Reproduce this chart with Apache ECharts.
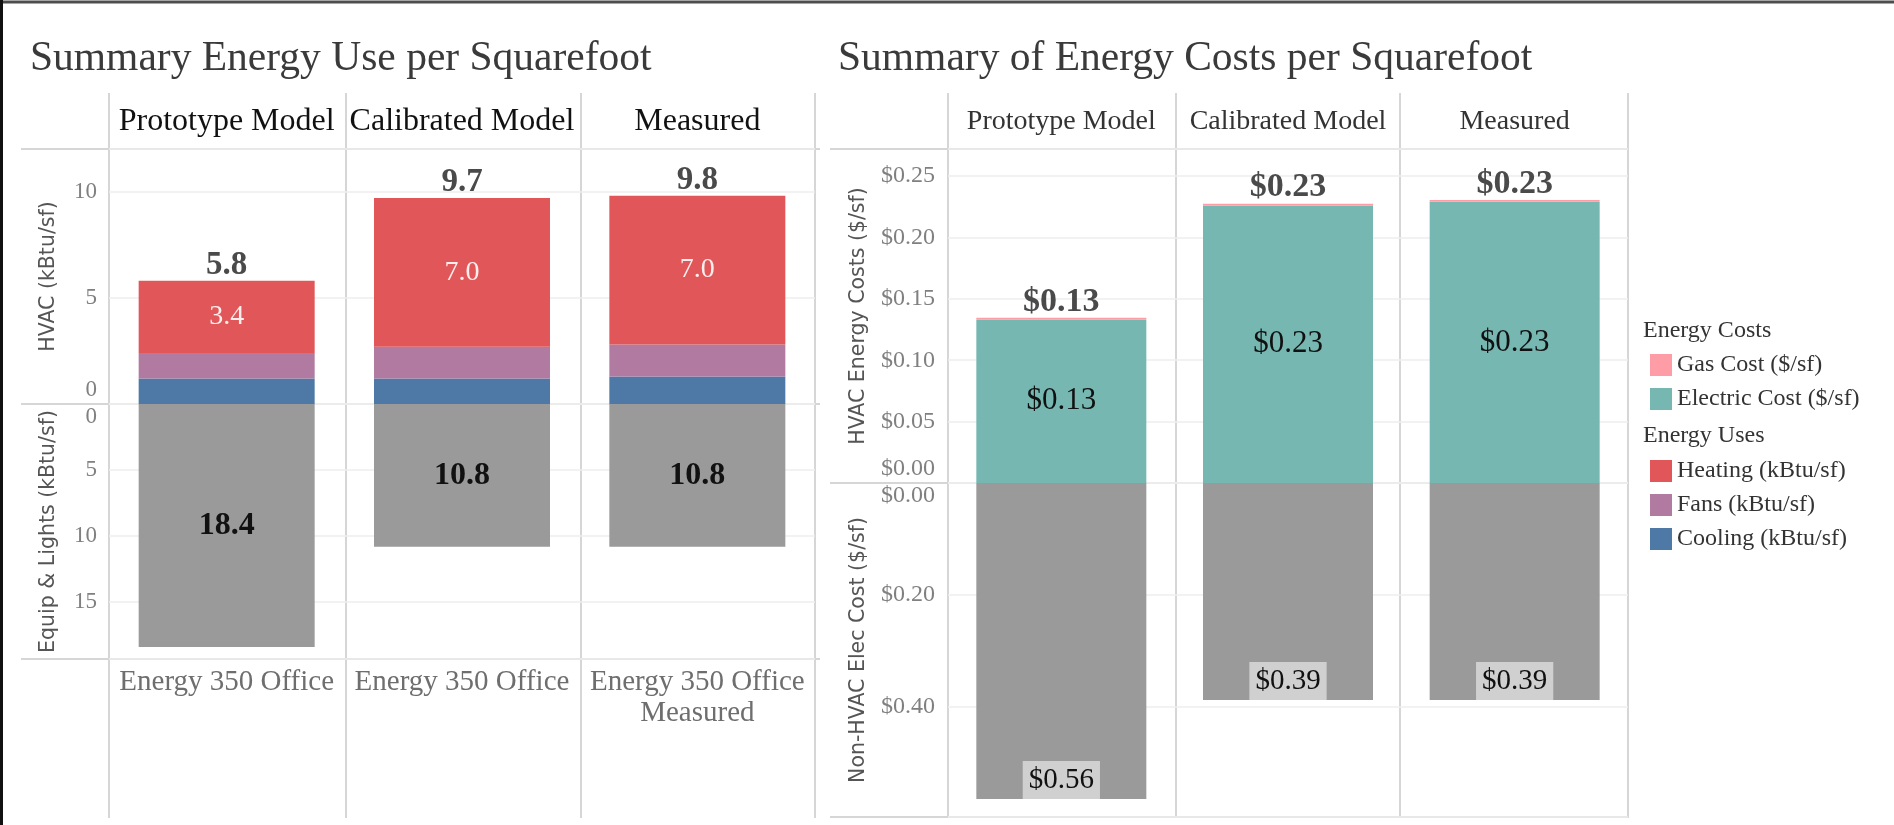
<!DOCTYPE html>
<html>
<head>
<meta charset="utf-8">
<title>Summary Energy Use and Costs per Squarefoot</title>
<script src="https://cdn.jsdelivr.net/npm/echarts@6/dist/echarts.min.js"></script>
<style>
  html, body { margin: 0; padding: 0; background: #fff; }
  #main { width: 1894px; height: 825px; }
</style>
</head>
<body>
<div id="main"></div>
<script>
// categories
const scenarios = ["Prototype Model", "Calibrated Model", "Measured"];
const buildings = ["Energy 350 Office", "Energy 350 Office", "Energy 350 Office\nMeasured"];

// energy use (kBtu/sf)
const cooling = [1.2, 1.2, 1.3];
const fans = [1.2, 1.5, 1.5];
const heating = [3.4, 7.0, 7.0];
const equipLights = [18.4, 10.8, 10.8];

// energy costs ($/sf)
const electricCost = [0.133, 0.226, 0.229];
const gasCost = [0.0015, 0.0015, 0.0015];
const nonHvacCost = [0.564, 0.387, 0.387];

const hvacTotal = cooling.map((v, i) => v + fans[i] + heating[i]);
const costTotal = electricCost.map((v, i) => v + gasCost[i]);

const SERIF = "'Liberation Serif', 'DejaVu Serif', serif";
const SANS = "'DejaVu Sans', sans-serif";
const paneLine = "#d6d6d6";
const gridLine = "#eeeeee";
const tickColor = "#808080";
const barGray = "#9a9a9a";

function money(v) {
  return "$" + (Math.round(v * 100) / 100).toFixed(2);
}

// y axis: zero label nudged away from the pane divider like the original
function valueAxis(grid, opts) {
  const fmt = opts.fmt;
  const shift = opts.inverse ? [26, 0, 0, 0] : [0, 0, 28, 0];
  return {
    type: "value",
    gridIndex: grid,
    min: 0,
    max: opts.max,
    interval: opts.interval,
    inverse: !!opts.inverse,
    name: opts.name,
    nameLocation: "middle",
    nameGap: opts.nameGap,
    nameTextStyle: { fontFamily: SANS, fontSize: 20.5, color: "#555" },
    axisLine: { show: false },
    axisTick: { show: false },
    splitLine: { lineStyle: { color: gridLine, width: 1.5 } },
    axisLabel: {
      showMaxLabel: false,
      margin: opts.margin,
      fontFamily: SERIF,
      fontSize: opts.fontSize,
      color: tickColor,
      formatter: v => (v === 0 ? "{z|" + fmt(v) + "}" : fmt(v)),
      rich: {
        z: { padding: shift, fontFamily: SERIF, fontSize: opts.fontSize, color: tickColor }
      }
    }
  };
}

function vline(x) {
  return { type: "line", z: 0, shape: { x1: x, y1: 93, x2: x, y2: 818 }, style: { stroke: paneLine, lineWidth: 2 } };
}
function hline(y, x1, x2) {
  return { type: "line", z: 0, shape: { x1: x1, y1: y, x2: x2, y2: y }, style: { stroke: paneLine, lineWidth: 2 } };
}

const option = {
  animation: false,
  backgroundColor: "#ffffff",
  grid: [
    { left: 109, top: 149, width: 706, height: 255 },
    { left: 109, top: 404, width: 706, height: 255 },
    { left: 948, top: 149, width: 680, height: 334 },
    { left: 948, top: 483, width: 680, height: 334 }
  ],
  xAxis: [
    {
      type: "category", gridIndex: 0, data: scenarios, position: "top",
      axisLine: { show: false }, axisTick: { show: false },
      axisLabel: { interval: 0, hideOverlap: false, margin: 11, fontFamily: SERIF, fontSize: 32, lineHeight: 32, color: "#111" }
    },
    {
      type: "category", gridIndex: 1, data: buildings, position: "bottom",
      axisLine: { show: false }, axisTick: { show: false },
      axisLabel: { interval: 0, hideOverlap: false, margin: 8, fontFamily: SERIF, fontSize: 29, lineHeight: 31, color: "#6e6e6e" }
    },
    {
      type: "category", gridIndex: 2, data: scenarios, position: "top",
      axisLine: { show: false }, axisTick: { show: false },
      axisLabel: { interval: 0, hideOverlap: false, margin: 13, fontFamily: SERIF, fontSize: 28, lineHeight: 28, color: "#333" }
    },
    { type: "category", gridIndex: 3, data: scenarios, show: false }
  ],
  yAxis: [
    valueAxis(0, { max: 12, interval: 5, name: "HVAC (kBtu/sf)", nameGap: 50, margin: 12, fontSize: 23, fmt: v => String(v) }),
    valueAxis(1, { max: 19.3, interval: 5, inverse: true, name: "Equip & Lights (kBtu/sf)", nameGap: 50, margin: 12, fontSize: 23, fmt: v => String(v) }),
    valueAxis(2, { max: 0.272, interval: 0.05, name: "HVAC Energy Costs ($/sf)", nameGap: 79, margin: 13, fontSize: 24, fmt: v => "$" + v.toFixed(2) }),
    valueAxis(3, { max: 0.596, interval: 0.2, inverse: true, name: "Non-HVAC Elec Cost ($/sf)", nameGap: 79, margin: 13, fontSize: 24, fmt: v => "$" + v.toFixed(2) })
  ],
  legend: [
    {
      data: ["Gas Cost ($/sf)", "Electric Cost ($/sf)"],
      orient: "vertical", left: 1645, top: 348,
      icon: "rect", itemWidth: 22, itemHeight: 22, itemGap: 10,
      textStyle: { fontFamily: SERIF, fontSize: 24, color: "#333" }
    },
    {
      data: ["Heating (kBtu/sf)", "Fans (kBtu/sf)", "Cooling (kBtu/sf)"],
      orient: "vertical", left: 1645, top: 454,
      icon: "rect", itemWidth: 22, itemHeight: 22, itemGap: 10,
      textStyle: { fontFamily: SERIF, fontSize: 24, color: "#333" }
    }
  ],
  series: [
    {
      name: "Cooling (kBtu/sf)", type: "bar", xAxisIndex: 0, yAxisIndex: 0, stack: "hvac",
      data: cooling, barWidth: 176, barGap: "-100%", itemStyle: { color: "#4E79A7" }
    },
    {
      name: "Fans (kBtu/sf)", type: "bar", xAxisIndex: 0, yAxisIndex: 0, stack: "hvac",
      data: fans, barWidth: 176, barGap: "-100%", itemStyle: { color: "#B07AA1" }
    },
    {
      name: "Heating (kBtu/sf)", type: "bar", xAxisIndex: 0, yAxisIndex: 0, stack: "hvac",
      data: heating, barWidth: 176, barGap: "-100%", itemStyle: { color: "#E15759" },
      label: {
        show: true, position: "inside", fontFamily: SERIF, fontSize: 28, color: "#fdeeee",
        formatter: p => p.value.toFixed(1)
      }
    },
    {
      name: "HVAC total", type: "bar", xAxisIndex: 0, yAxisIndex: 0,
      data: hvacTotal, barWidth: 176, barGap: "-100%", silent: true,
      itemStyle: { color: "transparent" },
      label: {
        show: true, position: "top", distance: -1, fontFamily: SERIF, fontSize: 33,
        fontWeight: "bold", color: "#4a4a4a", formatter: p => p.value.toFixed(1)
      }
    },
    {
      name: "Equip & Lights", type: "bar", xAxisIndex: 1, yAxisIndex: 1,
      data: equipLights, barWidth: 176, itemStyle: { color: barGray },
      label: {
        show: true, position: "inside", fontFamily: SERIF, fontSize: 32,
        fontWeight: "bold", color: "#111", formatter: p => p.value.toFixed(1)
      }
    },
    {
      name: "Electric Cost ($/sf)", type: "bar", xAxisIndex: 2, yAxisIndex: 2, stack: "cost",
      data: electricCost, barWidth: 170, barGap: "-100%", itemStyle: { color: "#76B7B2" },
      label: {
        show: true, position: "inside", fontFamily: SERIF, fontSize: 31, color: "#111",
        formatter: p => money(p.value)
      }
    },
    {
      name: "Gas Cost ($/sf)", type: "bar", xAxisIndex: 2, yAxisIndex: 2, stack: "cost",
      data: gasCost, barWidth: 170, barGap: "-100%", itemStyle: { color: "#FF9DA7" }
    },
    {
      name: "Cost total", type: "bar", xAxisIndex: 2, yAxisIndex: 2,
      data: costTotal, barWidth: 170, barGap: "-100%", silent: true,
      itemStyle: { color: "transparent" },
      label: {
        show: true, position: "top", distance: -1, fontFamily: SERIF, fontSize: 34,
        fontWeight: "bold", color: "#4a4a4a", formatter: p => money(p.value)
      }
    },
    {
      name: "Non-HVAC Elec Cost", type: "bar", xAxisIndex: 3, yAxisIndex: 3,
      data: nonHvacCost, barWidth: 170, itemStyle: { color: barGray },
      label: {
        show: true, position: "insideBottom", distance: 0, fontFamily: SERIF, fontSize: 29,
        lineHeight: 29, color: "#111", backgroundColor: "#d0d0d0", padding: [5, 6, 4, 6],
        formatter: p => money(p.value)
      }
    }
  ],
  graphic: [
    // frame
    { type: "line", shape: { x1: 0, y1: 2, x2: 1894, y2: 2 }, style: { stroke: "#4d4d4d", lineWidth: 3 } },
    { type: "line", shape: { x1: 1.5, y1: 0, x2: 1.5, y2: 825 }, style: { stroke: "#111", lineWidth: 3 } },
    // titles
    {
      type: "text", left: 30, top: 38,
      style: { text: "Summary Energy Use per Squarefoot", fontFamily: SERIF, fontSize: 41.5, fill: "#3a3a3a" }
    },
    {
      type: "text", left: 838, top: 38,
      style: { text: "Summary of Energy Costs per Squarefoot", fontFamily: SERIF, fontSize: 41.5, fill: "#3a3a3a" }
    },
    // legend headings
    {
      type: "text", left: 1643, top: 319,
      style: { text: "Energy Costs", fontFamily: SERIF, fontSize: 24, fill: "#333" }
    },
    {
      type: "text", left: 1643, top: 424,
      style: { text: "Energy Uses", fontFamily: SERIF, fontSize: 24, fill: "#333" }
    },
    // pane lines, left panel
    vline(109), vline(346), vline(581), vline(815),
    hline(149, 21, 820), hline(404, 21, 820), hline(659, 21, 820),
    // pane lines, right panel
    vline(948), vline(1176), vline(1400), vline(1628),
    hline(149, 830, 1628), hline(483, 830, 1628), hline(817, 830, 1628)
  ]
};

const myChart = echarts.init(document.getElementById("main"));
myChart.setOption(option);
window.onresize = function() {
  myChart.resize();
};
</script>
</body>
</html>
